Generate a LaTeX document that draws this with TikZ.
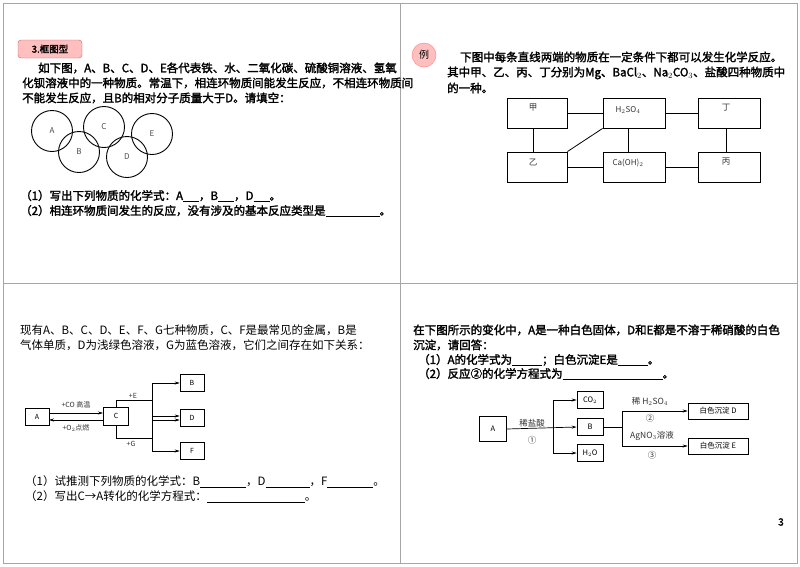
\documentclass[tikz,border=0pt]{standalone}
\usepackage{fontspec}
\setmainfont{Noto Sans CJK SC}[AutoFakeBold=2]
\usetikzlibrary{arrows.meta}
\tikzset{
 txt/.style={anchor=west,inner sep=0pt,font=\fontsize{11.5}{13}\selectfont\bfseries},
 bx/.style={draw,line width=0.7pt,inner sep=0pt},
 lbl/.style={inner sep=0pt,font=\fontsize{8.5}{10}\selectfont,text=black!80},
 ln/.style={line width=0.8pt},
 ar/.style={line width=0.6pt,-{Stealth[length=5pt,width=3pt]}},
 ring/.style={draw,line width=0.9pt,circle,minimum size=41pt,inner sep=0pt,font=\fontsize{8}{9}\selectfont,text=black!70}
}
\begin{document}
\begin{tikzpicture}[x=1pt,y=-1pt]
\useasboundingbox[fill=white] (0,0) rectangle (800,566);
\draw[black!35,line width=0.8pt] (3,3) rectangle (797,563) (400,3)--(400,563) (3,283)--(797,283);
% ---- top left
\node[draw=red!60!black!60,fill=red!25,rounded corners=3pt,minimum width=64pt,minimum height=18pt,inner sep=0pt,font=\fontsize{9.5}{10}\selectfont\bfseries] (tag) at (50,49) {3.框图型};
\node[txt] (t1) at (38,68) {如下图，A、B、C、D、E各代表铁、水、二氧化碳、硫酸铜溶液、氢氧};
\node[txt] (t2) at (22,83) {化钡溶液中的一种物质。常温下，相连环物质间能发生反应，不相连环物质间};
\node[txt] (t3) at (22,98) {不能发生反应，且B的相对分子质量大于D。请填空：};
\node[ring] (cA) at (52,131) {A};
\node[ring] (cB) at (79,152) {B};
\node[ring] (cC) at (104,127) {C};
\node[ring] (cD) at (127,157) {D};
\node[ring] (cE) at (152,134) {E};
\node[txt] (q1) at (20,196) {（1）写出下列物质的化学式：A\underline{\hspace{16pt}}，B\underline{\hspace{16pt}}，D\underline{\hspace{16pt}}。};
\node[txt] (q2) at (20,211) {（2）相连环物质间发生的反应，没有涉及的基本反应类型是\underline{\hspace{54pt}}。};
% ---- top right
\node[circle,draw=red!50,fill=red!25,minimum size=24pt,inner sep=0pt,font=\fontsize{10}{10}\selectfont] (li) at (424,55) {例};
\node[txt] (r1) at (460,57) {下图中每条直线两端的物质在一定条件下都可以发生化学反应。};
\node[txt] (r2) at (447,73) {其中甲、乙、丙、丁分别为Mg、BaCl$_2$、Na$_2$CO$_3$、盐酸四种物质中};
\node[txt] (r3) at (447,88) {的一种。};
\node[draw,line width=0.9pt,minimum width=60pt,minimum height=30pt] (jia) at (537,113) {};
\node[draw,line width=0.9pt,minimum width=62pt,minimum height=30pt] (hs) at (634,113) {};
\node[draw,line width=0.9pt,minimum width=62pt,minimum height=30pt] (ding) at (729,113) {};
\node[draw,line width=0.9pt,minimum width=60pt,minimum height=30pt] (yi) at (537,167) {};
\node[draw,line width=0.9pt,minimum width=62pt,minimum height=30pt] (ca) at (634,167) {};
\node[draw,line width=0.9pt,minimum width=62pt,minimum height=30pt] (bing) at (729,167) {};
\node[lbl] at (533,108) {甲};
\node[lbl,font=\fontsize{8}{9}\selectfont\rmfamily] at (628,110) {H$_2$SO$_4$};
\node[lbl] at (726,108) {丁};
\node[lbl] at (533,162) {乙};
\node[lbl,font=\fontsize{8}{9}\selectfont\rmfamily] at (628,163) {Ca(OH)$_2$};
\node[lbl] at (726,162) {丙};
\draw[ln] (jia.east)--(hs.west) (hs.east)--(ding.west) (yi.east)--(ca.west) (ca.east)--(bing.west);
\draw[ln] (533,128)--(533,152) (628,128)--(628,152) (726,128)--(726,152);
\draw[ln] (yi.north east)--(hs.south west);
% ---- bottom left
\node[txt,font=\fontsize{11.5}{13}\selectfont] (s1) at (20,330) {现有A、B、C、D、E、F、G七种物质，C、F是最常见的金属，B是};
\node[txt,font=\fontsize{11.5}{13}\selectfont] (s2) at (20,345) {气体单质，D为浅绿色溶液，G为蓝色溶液，它们之间存在如下关系：};
\tikzset{sb/.style={bx,line width=0.6pt,minimum width=24pt,minimum height=17pt,font=\fontsize{7}{8}\selectfont}}
\node[sb] (A) at (37,417) {A};
\node[sb,minimum width=25pt,minimum height=18pt] (C) at (116,416) {C};
\node[sb] (B) at (192,383) {B};
\node[sb] (D) at (192,418) {D};
\node[sb] (F) at (192,451) {F};
\draw[ar] (49,413)--(103,413);
\draw[ar] (103,420)--(49,420);
\node[lbl,font=\fontsize{7}{8}\selectfont] at (76,405) {+CO 高温};
\node[lbl,font=\fontsize{7}{8}\selectfont] at (76,428) {+O$_2$点燃};
\coordinate (c1) at (152,400);
\coordinate (c2) at (152,438);
\draw[line width=0.5pt] (116,407)--(116,400)--(c1);
\draw[line width=0.5pt] (116,425)--(116,438)--(c2);
\draw[ar] (152,400)|-(B.west);
\draw[ar] (152,400)|-([yshift=-2pt]D.west);
\draw[ar] (152,438)|-([yshift=2pt]D.west);
\draw[ar] (152,438)|-(F.west);
\node[lbl,font=\fontsize{7}{8}\selectfont] at (133,396) {+E};
\node[lbl,font=\fontsize{7}{8}\selectfont] at (131,444) {+G};
\node[txt,font=\fontsize{11.5}{13}\selectfont] (p1) at (25,482) {（1）试推测下列物质的化学式：B\underline{\hspace{46pt}}，D\underline{\hspace{44pt}}，F\underline{\hspace{46pt}}。};
\node[txt,font=\fontsize{11.5}{13}\selectfont] (p2) at (25,497) {（2）写出C→A转化的化学方程式：\underline{\hspace{98pt}}。};
% ---- bottom right
\node[txt] (u1) at (413,330) {在下图所示的变化中，A是一种白色固体，D和E都是不溶于稀硝酸的白色};
\node[txt] (u2) at (413,345) {沉淀，请回答：};
\node[txt] (u3) at (418,360) {（1）A的化学式为\underline{\hspace{30pt}}；白色沉淀E是\underline{\hspace{30pt}}。};
\node[txt] (u4) at (418,374) {（2）反应②的化学方程式为\underline{\hspace{100pt}}。};
\tikzset{rb/.style={bx,line width=0.6pt,minimum width=26pt,minimum height=17pt,font=\fontsize{7.5}{8}\selectfont}}
\node[rb,minimum height=25pt,minimum width=27pt] (RA) at (493,429) {A};
\node[rb] (CO) at (590,400) {CO$_2$};
\node[rb] (RB) at (590,427) {B};
\node[rb] (HO) at (590,453) {H$_2$O};
\node[rb,minimum width=60pt,minimum height=16pt] (RD) at (718,411) {白色沉淀 D};
\node[rb,minimum width=60pt,minimum height=16pt] (RE) at (718,446) {白色沉淀 E};
\draw[ar,line width=0.7pt] (RA.east)--(RB.west);
\draw[line width=1pt] (553,400)--(553,453);
\draw[ar,line width=1pt] (553,400)--(CO.west);
\draw[ar,line width=1pt] (553,453)--(HO.west);
\node[lbl] at (532,423) {稀盐酸};
\node[lbl] at (532,440) {①};
\coordinate (rj) at (622,427);
\draw[line width=1pt] (RB.east)--(rj);
\draw[line width=0.8pt] (622,411)--(622,446);
\draw[ar] (622,411)--(RD.west);
\draw[ar] (622,446)--(RE.west);
\node[lbl] at (650,401) {稀 H$_2$SO$_4$};
\node[lbl] at (650,418) {②};
\node[lbl] at (652,436) {AgNO$_3$溶液};
\node[lbl] at (652,455) {③};
\node[inner sep=0pt,font=\fontsize{10}{10}\selectfont\bfseries] (pg) at (781,522) {3};
\end{tikzpicture}
\end{document}
